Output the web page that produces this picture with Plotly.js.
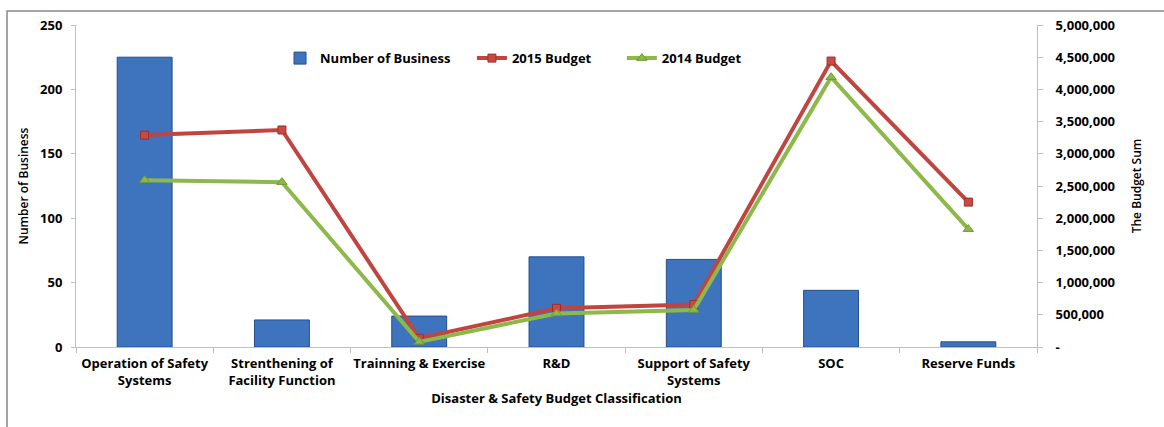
<!DOCTYPE html>
<html>
<head>
<meta charset="utf-8">
<script src="https://cdn.plot.ly/plotly-3.0.1.min.js"></script>
<style>html,body{margin:0;padding:0;background:#fff;}#chart{width:1164px;height:427px;}</style>
</head>
<body>
<div id="chart"></div>
<script>
var categories = ["Operation of Safety<br>Systems", "Strenthening of<br>Facility Function", "Trainning & Exercise", "R&D", "Support of Safety<br>Systems", "SOC", "Reserve Funds"];
var numberOfBusiness = [225, 21, 24, 70, 68, 44, 4];
var budget2015 = [3290000, 3370000, 135000, 600000, 660000, 4440000, 2250000];
var budget2014 = [2590000, 2560000, 80000, 520000, 575000, 4190000, 1830000];
var y1TickVals = [0, 50, 100, 150, 200, 250];
var y2TickVals = [0, 500000, 1000000, 1500000, 2000000, 2500000, 3000000, 3500000, 4000000, 4500000, 5000000];
var y2TickText = ["-", "500,000", "1,000,000", "1,500,000", "2,000,000", "2,500,000", "3,000,000", "3,500,000", "4,000,000", "4,500,000", "5,000,000"];

var FONT = "Open Sans, Liberation Sans, sans-serif";
var traces = [
  {type: "bar", name: "Number of Business", x: categories, y: numberOfBusiness, width: 0.4, legend: "legend",
   marker: {color: "#3d74bd", line: {color: "#24508c", width: 1}}, yaxis: "y"},
  {type: "scatter", mode: "lines+markers", name: "2015 Budget", x: categories, y: budget2015, yaxis: "y2", legend: "legend2",
   line: {color: "#c0453f", width: 4}, marker: {symbol: "square", size: 8, color: "#c94a44", line: {color: "#9c2e2a", width: 1}}},
  {type: "scatter", mode: "lines+markers", name: "2014 Budget", x: categories, y: budget2014, yaxis: "y2", legend: "legend3",
   line: {color: "#8db94b", width: 4}, marker: {symbol: "triangle-up", size: 9, color: "#8db94b", line: {color: "#6f9a33", width: 1}}}
];

function leg(x) {
  return {orientation: "h", x: x, y: 0.897, xanchor: "left", yanchor: "middle",
          font: {family: FONT, size: 13, weight: "bold"}, bgcolor: "rgba(0,0,0,0)"};
}

var layout = {
  width: 1164, height: 427,
  margin: {l: 76, r: 127, t: 25, b: 80},
  paper_bgcolor: "#fff", plot_bgcolor: "#fff",
  font: {family: FONT, size: 13, color: "#000", weight: "bold"},
  showlegend: true,
  legend: leg(0.2123),
  legend2: leg(0.412),
  legend3: leg(0.568),
  xaxis: {type: "category", showline: true, linecolor: "#bfbfbf", linewidth: 1, ticks: "outside", tickson: "boundaries",
          ticklen: 5, tickcolor: "#bfbfbf", showgrid: false, zeroline: false, ticklabelstandoff: 4, tickangle: 0,
          tickfont: {family: FONT, size: 13, weight: "bold"},
          title: {text: "Disaster & Safety Budget Classification", font: {family: FONT, size: 13, weight: "bold"}, standoff: 6}},
  yaxis: {range: [0, 250], tickvals: y1TickVals, showline: true, linecolor: "#bfbfbf", linewidth: 1,
          ticks: "outside", ticklen: 4, tickcolor: "#bfbfbf", showgrid: false, zeroline: false, ticklabelstandoff: 6,
          tickfont: {family: FONT, size: 13, weight: "bold"},
          title: {text: "Number of Business", font: {family: FONT, size: 12, weight: 600}, standoff: 8}},
  yaxis2: {range: [0, 5000000], overlaying: "y", side: "right", tickvals: y2TickVals, ticktext: y2TickText,
           showline: true, linecolor: "#bfbfbf", linewidth: 1, ticks: "outside", ticklen: 5, tickcolor: "#bfbfbf",
           showgrid: false, zeroline: false, ticklabelstandoff: 10, tickfont: {family: FONT, size: 13, weight: "bold"},
           title: {text: "The Budget Sum", font: {family: FONT, size: 12, weight: 600}, standoff: 18}},
  shapes: [{type: "rect", xref: "paper", yref: "paper", x0: -0.0718, x1: 1.3, y0: -0.5, y1: 1.0435,
            line: {color: "#888", width: 1.5}, fillcolor: "rgba(0,0,0,0)", layer: "below"}]
};
Plotly.newPlot("chart", traces, layout, {displayModeBar: false, staticPlot: true});
</script>
</body>
</html>
